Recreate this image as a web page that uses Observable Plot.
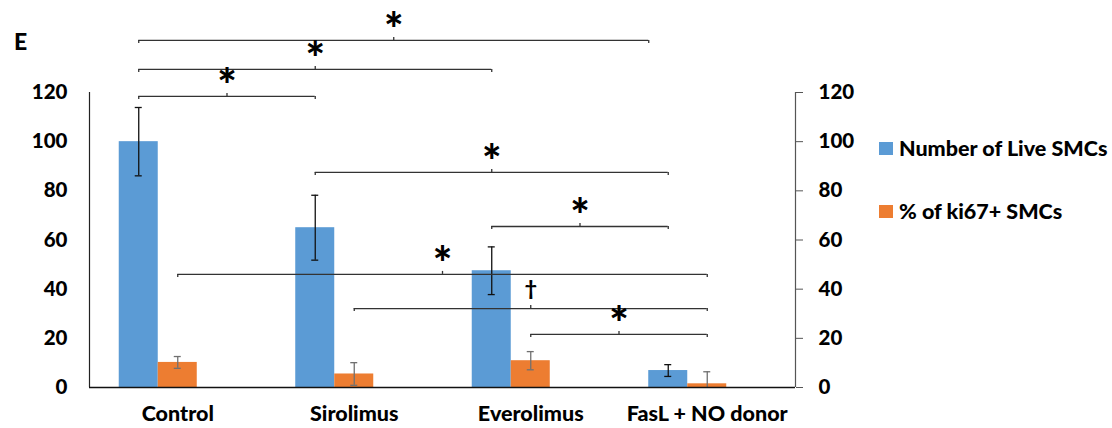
<!DOCTYPE html>
<html><head><meta charset="utf-8">
<script src="https://cdn.jsdelivr.net/npm/d3@7"></script>
<script src="https://cdn.jsdelivr.net/npm/@observablehq/plot@0.6"></script>
<style>
body{margin:0;background:#fff;}
#wrap{position:relative;width:1112px;height:428px;overflow:hidden;font-family:Lato,sans-serif;font-weight:900;color:#000;}
#panel{position:absolute;left:14px;top:27px;font-size:23px;line-height:28px;}
.lg{position:absolute;left:879px;display:flex;align-items:center;font-size:21.5px;line-height:24px;white-space:nowrap;}
.sw{display:inline-block;width:14px;height:13px;margin-right:6px;}
</style></head><body>
<div id="wrap"><div id="chart"></div><div id="panel">E</div>
<div class="lg" id="lg0" style="top:136px"></div>
<div class="lg" id="lg1" style="top:199px"></div>
</div>
<script>
// ---- data ----
const categories = ["Control", "Sirolimus", "Everolimus", "FasL + NO donor"];
const seriesNames = ["Number of Live SMCs", "% of ki67+ SMCs"];
const seriesColors = ["#5B9BD5", "#ED7D31"];
const liveValues = [100, 65, 47.5, 6.9];
const liveErrors = [13.9, 13.2, 9.7, 2.4];
const ki67Values = [10.2, 5.5, 10.9, 1.5];
const ki67Errors = [2.4, 4.6, 3.7, 4.9];
const yTicks = [0, 20, 40, 60, 80, 100, 120];
// significance brackets: from category/series to category/series at a level on the value axis
const bracketFrom = ["Control", "Control", "Control", "Sirolimus", "Everolimus", "Control", "Sirolimus", "Everolimus"];
const bracketFromSeries = ["live", "live", "live", "live", "live", "ki67", "ki67", "ki67"];
const bracketTo = ["Sirolimus", "Everolimus", "FasL + NO donor", "FasL + NO donor", "FasL + NO donor", "FasL + NO donor", "FasL + NO donor", "FasL + NO donor"];
const bracketToSeries = ["live", "live", "edge", "live", "live", "ki67", "ki67", "ki67"];
const bracketLevels = [118.4, 129.4, 141.2, 87.5, 65.5, 46.0, 32.1, 21.6];
const bracketMarks = ["*", "*", "*", "*", "*", "*", "\u2020", "*"];

// ---- layout ----
const W = 1112, H = 428;
const mTop = 92, mBottom = 41, mLeft = 89, mRight = 317;
const yMax = 120;
const pxPerY = (H - mTop - mBottom) / yMax;
const bandPx = (W - mLeft - mRight) / categories.length;
const slotW = 0.221;                       // bar width as fraction of category band
const groupStart = -0.5 + (1 - 3 * slotW) / 2; // Excel group of 3 slots (third unused)
const anchorOffset = {edge: groupStart, live: groupStart + slotW / 2, ki67: groupStart + 1.5 * slotW};
const capHalf = 3.5 / bandPx;
const tickLen = 3 / pxPerY;

const bars = categories.flatMap((c, i) => [
  {cat: c, i, k: 0, value: liveValues[i], err: liveErrors[i]},
  {cat: c, i, k: 1, value: ki67Values[i], err: ki67Errors[i]}
]);
bars.forEach(d => {
  d.x1 = d.i + groupStart + d.k * slotW;
  d.x2 = d.x1 + slotW;
  d.xc = (d.x1 + d.x2) / 2;
  d.lo = Math.max(0, d.value - d.err);
  d.hi = d.value + d.err;
  d.color = seriesColors[d.k];
  d.errColor = d.k === 0 ? "#111" : "#707070";
});

const brackets = bracketFrom.map((f, j) => {
  const x1 = categories.indexOf(f) + anchorOffset[bracketFromSeries[j]];
  const x2 = categories.indexOf(bracketTo[j]) + anchorOffset[bracketToSeries[j]];
  return {x1, x2, xm: (x1 + x2) / 2, level: bracketLevels[j], mark: bracketMarks[j]};
});
const stars = brackets.filter(b => b.mark === "*");
const daggers = brackets.filter(b => b.mark !== "*");

const xDomain = [-0.5, categories.length - 0.5];

const plot = Plot.plot({
  width: W, height: H,
  marginTop: mTop, marginBottom: mBottom, marginLeft: mLeft, marginRight: mRight,
  style: {fontFamily: "Lato, sans-serif", fontWeight: "900", fontSize: "20px", background: "white", overflow: "visible"},
  x: {type: "linear", domain: xDomain},
  y: {domain: [0, yMax]},
  marks: [
    Plot.rect(bars, {x1: "x1", x2: "x2", y1: 0, y2: "value", fill: "color"}),
    // error bars
    Plot.ruleX(bars, {x: "xc", y1: "lo", y2: "hi", stroke: "errColor", strokeWidth: 1.3}),
    Plot.ruleY(bars, {y: "hi", x1: d => d.xc - capHalf, x2: d => d.xc + capHalf, stroke: "errColor", strokeWidth: 1.3}),
    Plot.ruleY(bars.filter(d => d.value - d.err > 0), {y: "lo", x1: d => d.xc - capHalf, x2: d => d.xc + capHalf, stroke: "errColor", strokeWidth: 1.3}),
    // axes lines
    Plot.ruleX([xDomain[0]], {y1: 0, y2: yMax, stroke: "#222", strokeWidth: 1.2}),
    Plot.ruleX([xDomain[1]], {y1: 0, y2: yMax, stroke: "#555", strokeWidth: 1.2}),
    Plot.ruleY([0], {x1: xDomain[0], x2: xDomain[1], stroke: "#111", strokeWidth: 1.6}),
    Plot.axisY({anchor: "left", ticks: yTicks, tickSize: 0, tickPadding: 22, fontSize: 20.5, fontWeight: "900", label: null}),
    Plot.axisY({anchor: "right", ticks: yTicks, tickSize: 7, tickPadding: 16, fontSize: 20.5, fontWeight: "900", label: null, stroke: "#555"}),
    Plot.axisX({ticks: categories.map((c, i) => i), tickFormat: i => categories[i], tickSize: 0, tickPadding: 18, fontSize: 21.5, fontWeight: "900", label: null}),
    // significance brackets
    Plot.ruleY(brackets, {y: "level", x1: "x1", x2: "x2", stroke: "#333", strokeWidth: 1.3}),
    Plot.ruleX(brackets, {x: "x1", y1: "level", y2: d => d.level - tickLen, stroke: "#333", strokeWidth: 1.3}),
    Plot.ruleX(brackets, {x: "x2", y1: "level", y2: d => d.level - tickLen, stroke: "#333", strokeWidth: 1.3}),
    Plot.ruleX(brackets, {x: "xm", y1: "level", y2: d => d.level + tickLen, stroke: "#333", strokeWidth: 1.3}),
    Plot.text(stars, {x: "xm", y: "level", text: "mark", fontSize: 46, fontWeight: "900", dy: -9, fill: "#000"}),
    Plot.text(daggers, {x: "xm", y: "level", text: "mark", fontSize: 21, fontWeight: "900", dy: -19, fill: "#000"})
  ]
});
document.getElementById("chart").appendChild(plot);

seriesNames.forEach((s, k) => {
  const el = document.getElementById("lg" + k);
  const sw = document.createElement("span");
  sw.className = "sw";
  sw.style.background = seriesColors[k];
  el.appendChild(sw);
  el.appendChild(document.createTextNode(s));
});
</script>
</body></html>
